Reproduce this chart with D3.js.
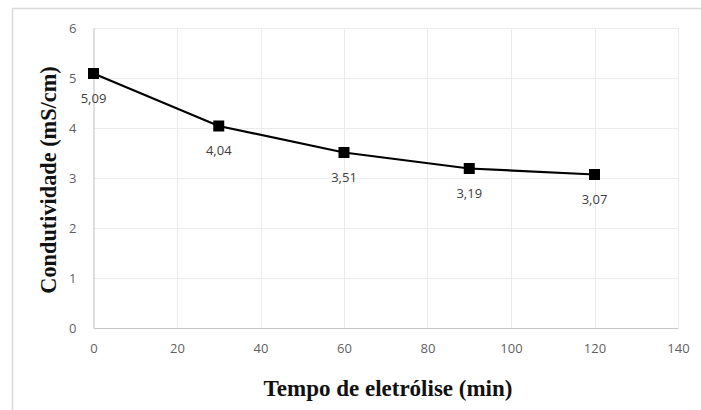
<!DOCTYPE html>
<html><head><meta charset="utf-8">
<script src="https://cdn.jsdelivr.net/npm/d3@7"></script>
<style>body{margin:0;background:#fff}svg{display:block}</style>
</head><body><svg id="c" width="701" height="410"></svg>
<script>
const times = [0, 30, 60, 90, 120];
const conductivity = [5.09, 4.04, 3.51, 3.19, 3.07];
const valueLabels = ["5,09", "4,04", "3,51", "3,19", "3,07"];
const xTicks = [0, 20, 40, 60, 80, 100, 120, 140];
const yTicks = [0, 1, 2, 3, 4, 5, 6];
const xTitle = "Tempo de eletrólise (min)";
const yTitle = "Condutividade (mS/cm)";

const svg = d3.select("#c");
const pLeft = 93.5, pRight = 678, pTop = 28, pBottom = 328;
const x = d3.scaleLinear().domain([0, 140]).range([pLeft, pRight]);
const y = d3.scaleLinear().domain([0, 6]).range([pBottom, pTop]);

svg.append("rect").attr("x", 12.5).attr("y", 8.5).attr("width", 720).attr("height", 420)
  .attr("fill", "#fff").attr("stroke", "#d9d9d9").attr("stroke-width", 1.5);

// gridlines
svg.append("g").selectAll("line").data(yTicks.filter(d => d > 0)).join("line")
  .attr("x1", pLeft).attr("x2", pRight).attr("y1", d => Math.round(y(d)) + 0.5).attr("y2", d => Math.round(y(d)) + 0.5)
  .attr("stroke", "#ececec").attr("stroke-width", 1);
svg.append("g").selectAll("line").data(xTicks.filter(d => d > 0)).join("line")
  .attr("y1", pTop).attr("y2", pBottom).attr("x1", d => Math.round(x(d)) + 0.5).attr("x2", d => Math.round(x(d)) + 0.5)
  .attr("stroke", "#ececec").attr("stroke-width", 1);

// axes
const xAxis = d3.axisBottom(x).tickValues(xTicks).tickFormat(d3.format("d")).tickSize(0).tickPadding(16);
const gx = svg.append("g").attr("transform", `translate(0,${pBottom})`).call(xAxis);
gx.select(".domain").attr("stroke", "#c8c8c8").attr("stroke-width", 1.2);
gx.selectAll("text").attr("fill", "#5f5f5f").style("font-family", "'Open Sans', sans-serif").style("font-size", "13px");

const yAxis = d3.axisLeft(y).tickValues(yTicks).tickFormat(d3.format("d")).tickSize(0).tickPadding(17);
const gy = svg.append("g").attr("transform", `translate(${pLeft},0)`).call(yAxis);
gy.select(".domain").attr("stroke", "#c8c8c8").attr("stroke-width", 1.2);
gy.selectAll("text").attr("fill", "#5f5f5f").style("font-family", "'Open Sans', sans-serif").style("font-size", "13px");

const pts = times.map((t, i) => [t, conductivity[i]]);
svg.append("path").datum(pts)
  .attr("d", d3.line().x(d => x(d[0])).y(d => y(d[1])))
  .attr("fill", "none").attr("stroke", "#000").attr("stroke-width", 2.2);

svg.append("g").selectAll("rect").data(pts).join("rect")
  .attr("x", d => x(d[0]) - 5.5).attr("y", d => y(d[1]) - 5.5)
  .attr("width", 11).attr("height", 11).attr("fill", "#000");

svg.append("g").selectAll("text").data(pts).join("text")
  .attr("x", d => x(d[0])).attr("y", d => y(d[1]) + 29)
  .attr("text-anchor", "middle").attr("fill", "#404040")
  .style("font-family", "'Open Sans', sans-serif").style("font-size", "13px")
  .text((d, i) => valueLabels[i]);

svg.append("text").attr("x", 388).attr("y", 396).attr("text-anchor", "middle")
  .style("font-family", "'Liberation Serif', serif").style("font-weight", "bold").style("font-size", "23px")
  .attr("fill", "#111").text(xTitle);

svg.append("text").attr("transform", "translate(56,180) rotate(-90)").attr("text-anchor", "middle")
  .style("font-family", "'Liberation Serif', serif").style("font-weight", "bold").style("font-size", "22.3px")
  .attr("fill", "#111").text(yTitle);
</script></body></html>
